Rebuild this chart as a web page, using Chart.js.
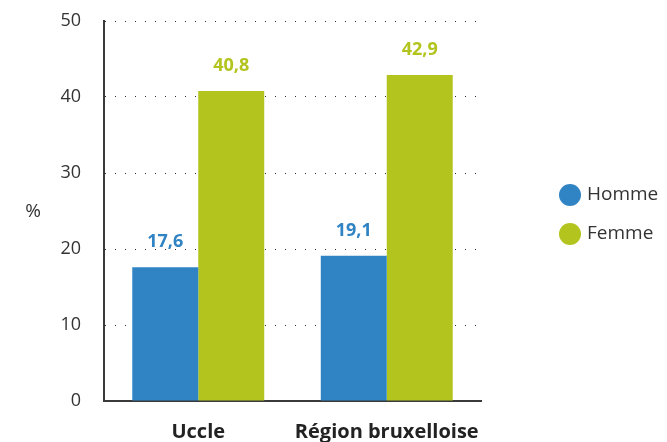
<!DOCTYPE html>
<html lang="fr">
<head>
<meta charset="utf-8">
<title>Uccle - Région bruxelloise</title>
<script src="https://cdn.jsdelivr.net/npm/chart.js@4/dist/chart.umd.min.js"></script>
<style>
    html, body { margin: 0; padding: 0; background: #fff; }
    #wrap { width: 667px; height: 442px; position: relative; }
</style>
</head>
<body>
<div id="wrap"><canvas id="chart"></canvas></div>
<script>
const categories = ['Uccle', 'Région bruxelloise'];
const seriesLabels = ['Homme', 'Femme'];
const hommeValues = [17.6, 19.1];
const femmeValues = [40.8, 42.9];
const yTicks = [0, 10, 20, 30, 40, 50];

const COLORS = { homme: '#3184c4', femme: '#b2c41d', text: '#333333', axis: '#3a3a3a' };
const FONT = '"Open Sans", "Noto Sans", sans-serif';

// Valeurs au-dessus des barres (virgule décimale)
const valueLabels = {
    id: 'valueLabels',
    afterDatasetsDraw(chart) {
        const ctx = chart.ctx;
        ctx.save();
        ctx.font = 'bold 18px ' + FONT;
        ctx.textAlign = 'center';
        ctx.textBaseline = 'middle';
        chart.data.datasets.forEach((ds, i) => {
            chart.getDatasetMeta(i).data.forEach((bar, j) => {
                ctx.fillStyle = ds.backgroundColor;
                ctx.fillText(ds.data[j].toFixed(1).replace('.', ','), bar.x, bar.y - 25);
            });
        });
        ctx.restore();
    }
};

// Légende à droite + titre "%" de l'axe
const sideTexts = {
    id: 'sideTexts',
    afterDraw(chart) {
        const ctx = chart.ctx;
        const area = chart.chartArea;
        ctx.save();
        ctx.font = '19px ' + FONT;
        ctx.textBaseline = 'middle';
        ctx.fillStyle = COLORS.text;
        ctx.textAlign = 'center';
        ctx.fillText('%', 33, (area.top + area.bottom) / 2 + 1);

        ctx.textAlign = 'left';
        chart.data.datasets.forEach((ds, i) => {
            const y = 195 + i * 39;
            ctx.beginPath();
            ctx.fillStyle = ds.backgroundColor;
            ctx.arc(570, y, 11, 0, Math.PI * 2);
            ctx.fill();
            ctx.fillStyle = COLORS.text;
            ctx.fillText(ds.label, 587, y);
        });
        ctx.restore();
    }
};

new Chart(document.getElementById('chart'), {
    type: 'bar',
    data: {
        labels: categories,
        datasets: [
            { label: seriesLabels[0], data: hommeValues, backgroundColor: COLORS.homme },
            { label: seriesLabels[1], data: femmeValues, backgroundColor: COLORS.femme }
        ]
    },
    options: {
        responsive: true,
        maintainAspectRatio: false,
        animation: false,
        datasets: { bar: { categoryPercentage: 0.7, barPercentage: 1.0 } },
        layout: { padding: { top: 21, right: 186, left: 0, bottom: 0 } },
        plugins: { legend: { display: false }, tooltip: { enabled: false } },
        scales: {
            x: {
                grid: { display: false, drawTicks: false },
                border: { color: COLORS.axis, width: 2 },
                ticks: {
                    color: '#222', padding: 19, maxRotation: 0, minRotation: 0, autoSkip: false,
                    font: { family: FONT, size: 20, weight: 'bold' }
                },
                afterFit(scale) { scale.height = 41; }
            },
            y: {
                min: 0,
                max: 50,
                afterBuildTicks(scale) { scale.ticks = yTicks.map(v => ({ value: v })); },
                grid: {
                    drawTicks: true,
                    tickLength: 23,
                    tickColor: 'rgba(0,0,0,0)',
                    color: c => c.tick.value === 0 ? 'rgba(0,0,0,0)' : '#2a2a2a',
                    lineWidth: 1
                },
                border: { color: COLORS.axis, width: 2, dash: [1, 9], dashOffset: 0 },
                ticks: { color: COLORS.text, padding: 0, font: { family: FONT, size: 18 } },
                afterFit(scale) { scale.width = 104; }
            }
        }
    },
    plugins: [valueLabels, sideTexts]
});
</script>
</body>
</html>
